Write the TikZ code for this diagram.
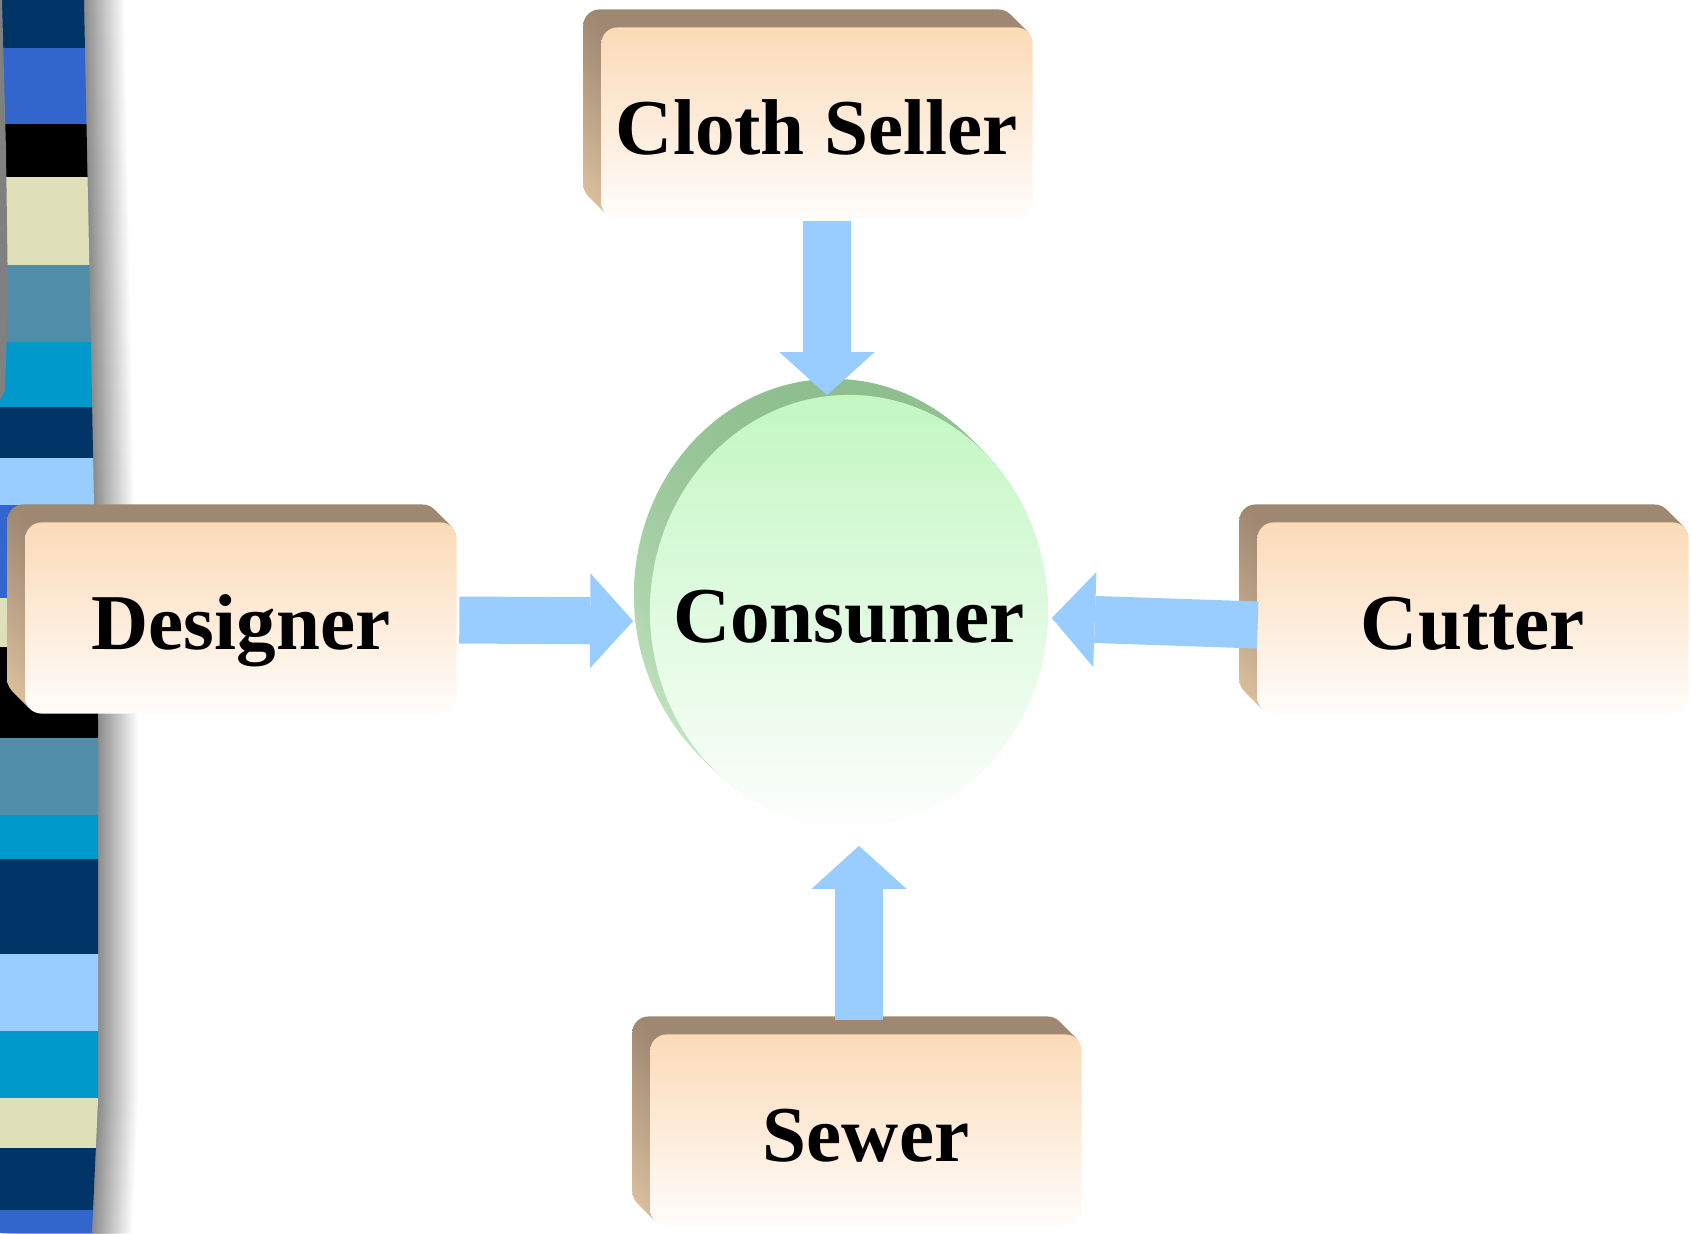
\documentclass[tikz,border=0pt]{standalone}
\usepackage{fontspec}
\setmainfont{Liberation Serif}
\usetikzlibrary{positioning,calc,arrows.meta,shapes.geometric}

% Colours of the side bar
\definecolor{barNavy}{HTML}{003366}
\definecolor{barBlue}{HTML}{3366CC}
\definecolor{barBeige}{HTML}{DFDFB9}
\definecolor{barSteel}{HTML}{508DA8}
\definecolor{barCyan}{HTML}{0099CC}
\definecolor{barSky}{HTML}{99CCFF}
\definecolor{barGray}{HTML}{808080}
% Colours of boxes, disc and arrows
\definecolor{flowBlue}{HTML}{99CCFF}
\definecolor{sideTop}{HTML}{9F8872}
\definecolor{sideBot}{HTML}{DCC09E}
\definecolor{faceTop}{HTML}{FCDAB7}
\definecolor{faceBot}{HTML}{FFFDFB}
\definecolor{rimTop}{HTML}{8EBE8E}
\definecolor{rimBot}{HTML}{CDEDCD}
\definecolor{discTop}{HTML}{C2F7C2}
\definecolor{discBot}{HTML}{FDFEFD}

\tikzset{
  bigtext/.style={font=\fontsize{22.5}{27}\selectfont\bfseries,
    text height=18pt, text depth=0pt},
  boxside/.style={rectangle, rounded corners=0.16cm, minimum width=4.31cm,
    minimum height=1.91cm, inner sep=0pt, top color=sideTop, bottom color=sideBot},
  boxface/.style={boxside, top color=faceTop, bottom color=faceBot, bigtext},
  discside/.style={ellipse, minimum width=3.98cm, minimum height=4.32cm,
    inner sep=0pt, top color=rimTop, bottom color=rimBot},
  discface/.style={discside, top color=discTop, bottom color=discBot, bigtext,
    inner xsep=-1.2cm},
  flow/.style={draw=flowBlue, line width=0.47cm,
    -{Triangle[length=0.43cm 0 0, width=0.95cm 0 0, line width=0pt]}}
}

% Outline of the striped bar (pixel units, y downwards)
\def\barshape{(0,0) -- (84,0) -- (92,400) -- (98,720) -- (98,1100) -- (92,1233) -- (0,1233) -- cycle}

\begin{document}
\begin{tikzpicture}[x=0.01cm,y=-0.01cm]
\useasboundingbox (0,0) rectangle (1691,1233);

% Shadow to the right of the bar
\foreach \k in {40,39,...,1}{
  \pgfmathsetmacro\p{46*(1-\k/41)}
  \fill[black!\p, shift={(\k,0)}] \barshape;
}

% Striped bar
\begin{scope}
\clip \barshape;
\foreach \ya/\yb/\c in {0/48/barNavy, 48/124/barBlue, 124/177/black,
    177/265/barBeige, 265/342/barSteel, 342/407/barCyan, 407/458/barNavy,
    458/505/barSky, 505/598/barBlue, 598/647/barBeige, 647/738/black,
    738/815/barSteel, 815/859/barCyan, 859/954/barNavy, 954/1031/barSky,
    1031/1098/barCyan, 1098/1148/barBeige, 1148/1210/barNavy, 1210/1233/barBlue}
  \fill[\c] (0,\ya) rectangle (110,\yb);
\end{scope}
\fill[barGray] (0,0) -- (2,0) -- (6,150) -- (8,300) -- (5,390) -- (0,400) -- cycle;

% Boxes with their extruded sides
\foreach \n/\x/\y/\t in {cloth/817/123/Cloth Seller, designer/241/618/Designer,
    cutter/1473/618/Cutter, sewer/866/1130/Sewer}{
  \foreach \k in {18,17,...,1}
    \node[boxside] at (\x-\k,\y-\k) {};
  \node[boxface] (\n) at (\x,\y) {\t};
}

% Disc in the middle
\foreach \k in {16,15,...,1}
  \node[discside] at (849-\k,611-\k) {};
\node[discface] (consumer) at (849,611) {Consumer};

% Arrows into the disc
\draw[flow] ($(cloth.south)+(10,2)$) -- ($(consumer.north)+(-22,1)$);
\draw[flow] ($(designer.east)+(2,2)$) -- ($(consumer.west)+(-16,10)$);
\draw[flow] ($(cutter.west)+(1,7)$) -- ($(consumer.east)+(3,7)$);
\draw[flow] ($(sewer.north)+(-7,-14)$) -- ($(consumer.south)+(10,18)$);

\end{tikzpicture}
\end{document}
